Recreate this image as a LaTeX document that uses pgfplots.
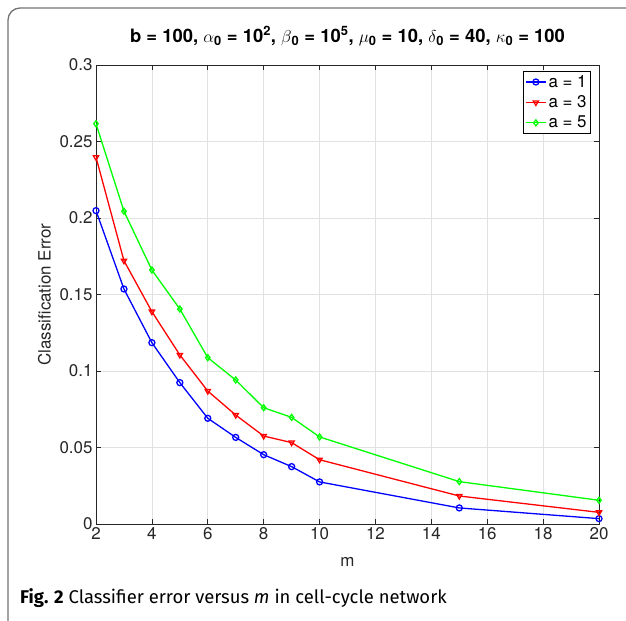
\documentclass[border=0pt]{standalone}
\usepackage{fontspec}
\setmainfont{TeX Gyre Heros}
\newfontfamily\capfont{Fira Sans}
\usepackage{pgfplots}
\pgfplotsset{compat=1.18}
\definecolor{axgray}{RGB}{38,38,38}
\definecolor{framegray}{RGB}{115,115,115}
\definecolor{gridgray}{RGB}{225,225,225}
\definecolor{mblue}{RGB}{0,0,255}
\definecolor{mred}{RGB}{255,0,0}
\definecolor{mgreen}{RGB}{0,255,0}

\begin{document}
\begin{tikzpicture}[x=1bp,y=1bp]
\path[use as bounding box] (0,0) rectangle (626,621);
\begin{scope}
  \clip (0,0) rectangle (626,621);
  \draw[framegray, line width=1.3bp, rounded corners=12bp] (8,-30) -- (8,613) -- (680,613);
\end{scope}
\begin{axis}[
  at={(96bp,97bp)}, anchor=south west,
  scale only axis, width=503bp, height=459bp,
  xmin=2, xmax=20, ymin=0, ymax=0.3,
  xtick={2,4,6,8,10,12,14,16,18,20},
  ytick={0,0.05,0.1,0.15,0.2,0.25,0.3},
  yticklabels={0,0.05,0.1,0.15,0.2,0.25,0.3},
  tick align=inside,
  major tick length=5bp,
  tick style={axgray, line width=0.7bp},
  axis line style={axgray, line width=0.7bp},
  grid=major,
  grid style={gridgray, line width=0.7bp},
  font=\fontsize{17}{20}\selectfont,
  tick label style={axgray, font=\fontsize{17}{20}\selectfont},
  /pgf/number format/assume math mode=true,
  title={\textbf{b = 100, $\alpha$\textsubscript{0} = 10\textsuperscript{2}, $\beta$\textsubscript{0} = 10\textsuperscript{5}, $\mu$\textsubscript{0} = 10, $\delta$\textsubscript{0} = 40, $\kappa$\textsubscript{0} = 100}},
  title style={at={(axis description cs:0.5,1.05)}, anchor=center, font=\fontsize{18.5}{22}\selectfont},
  xlabel={m},
  xlabel style={at={(axis description cs:0.5,-0.083)}, anchor=center, axgray},
  ylabel={Classification Error},
  ylabel style={at={(axis description cs:-0.1025,0.5)}, anchor=center, axgray},
  legend style={at={(0.984,0.987)}, anchor=north east, draw=black, line width=0.6bp,
    fill=white, font=\fontsize{17}{20}\selectfont, inner sep=2bp, row sep=3bp,
    cells={anchor=west}},
  legend image code/.code={\draw[#1, mark repeat=2, mark phase=2] plot coordinates {(0bp,0bp) (10bp,0bp) (20bp,0bp)};},
  every axis plot/.append style={line width=1.3bp, mark size=3bp},
]
\addplot[mblue, mark=o] coordinates {
  (2,0.2048) (3,0.1536) (4,0.1185) (5,0.0924) (6,0.0691) (7,0.0566)
  (8,0.0453) (9,0.0375) (10,0.0275) (15,0.0105) (20,0.0035)
};
\addlegendentry{a = 1}
\addplot[mred, mark=triangle, mark options={rotate=180, solid}] coordinates {
  (2,0.2397) (3,0.1721) (4,0.1388) (5,0.1105) (6,0.0869) (7,0.0712)
  (8,0.0575) (9,0.0532) (10,0.0420) (15,0.0183) (20,0.0076)
};
\addlegendentry{a = 3}
\addplot[mgreen, mark=diamond] coordinates {
  (2,0.2616) (3,0.2044) (4,0.1660) (5,0.1405) (6,0.1087) (7,0.0941)
  (8,0.0760) (9,0.0697) (10,0.0569) (15,0.0277) (20,0.0155)
};
\addlegendentry{a = 5}
\end{axis}
\node[anchor=west, inner sep=0pt] at (20,23) {\capfont\fontsize{18.5}{22}\selectfont\textbf{Fig. 2} Classifier error versus \textit{m} in cell-cycle network};
\end{tikzpicture}
\end{document}
